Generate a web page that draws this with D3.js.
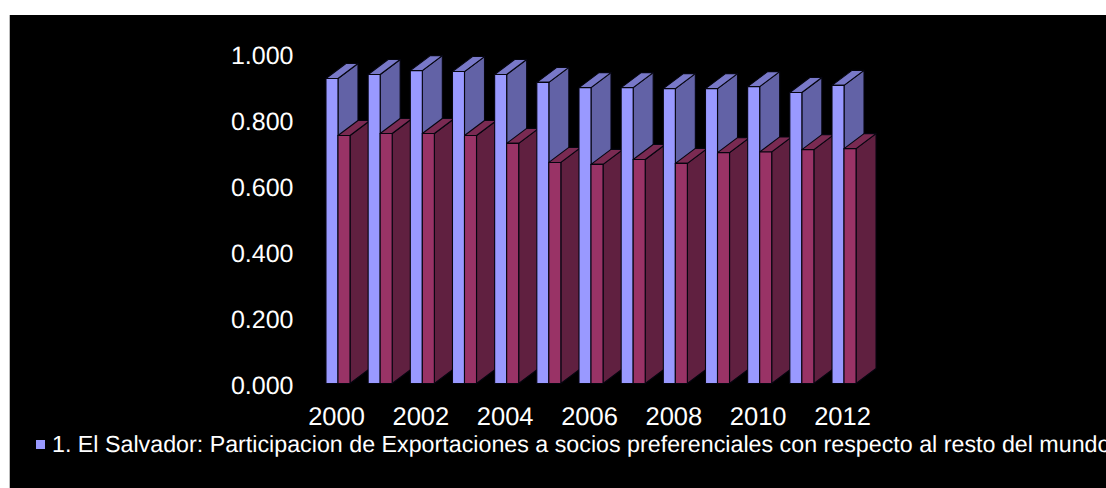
<!DOCTYPE html>
<html><head><meta charset="utf-8">
<script src="https://cdn.jsdelivr.net/npm/d3@7"></script>
<style>html,body{margin:0;padding:0;background:#fff}svg{display:block}text{font-family:"Liberation Sans",Arial,sans-serif;text-rendering:geometricPrecision}</style>
</head><body><div id="c"></div>
<script>
const years=[2000,2001,2002,2003,2004,2005,2006,2007,2008,2009,2010,2011,2012];
const tickYears=[2000,2002,2004,2006,2008,2010,2012];
const socios=[0.930,0.942,0.954,0.951,0.942,0.918,0.902,0.902,0.899,0.899,0.905,0.887,0.909];
const otros=[0.756,0.762,0.762,0.756,0.732,0.674,0.668,0.683,0.671,0.704,0.706,0.713,0.716];
const yTicks=[0,0.2,0.4,0.6,0.8,1];
const legendLabel="1. El Salvador: Participacion de Exportaciones a socios preferenciales con respecto al resto del mundo";

const W=1106,H=488;
const svg=d3.select("#c").append("svg").attr("width",W).attr("height",H);
svg.append("rect").attr("x",9).attr("y",15).attr("width",W-9).attr("height",H-15).attr("fill","#000");
svg.append("rect").attr("x",9).attr("y",15).attr("width",1).attr("height",H-15).attr("fill","#bbb");

const x=d3.scaleBand().domain(years).range([316.9,865.1]).paddingInner(.43).paddingOuter(.215);
const y=d3.scaleLinear().domain([0,1]).range([383.5,55.5]);
const yLabels=d3.scaleLinear().domain([0,1]).range([385,55]);
const bw=x.bandwidth()/2, dx=20, dy=15;
const styles=[
 {front:"#9999ff",side:"#6262a6",top:"#7878c8"},
 {front:"#993366",side:"#602040",top:"#7a2a52"}];
const edge="#05050f";

const bars=svg.append("g");
years.forEach((yr,i)=>{
  [socios[i],otros[i]].forEach((v,s)=>{
    const x0=x(yr)+s*bw,x1=x0+bw,t=y(v),b=y(0),st=styles[s];
    const g=bars.append("g").attr("stroke",edge).attr("stroke-width",1.1).attr("stroke-linejoin","round");
    g.append("path").attr("fill",st.side).attr("d",d3.line()([[x1,b],[x1+dx,b-dy],[x1+dx,t-dy],[x1,t]])+"Z");
    g.append("path").attr("fill",st.top).attr("d",d3.line()([[x0,t],[x0+dx,t-dy],[x1+dx,t-dy],[x1,t]])+"Z");
    g.append("rect").attr("x",x0).attr("y",t).attr("width",bw).attr("height",b-t).attr("fill",st.front);
  });
});

const ya=svg.append("g").attr("transform","translate(293.5,0)")
  .call(d3.axisLeft(yLabels).tickValues(yTicks).tickSize(0).tickPadding(0).tickFormat(d3.format(".3f")));
ya.select(".domain").remove();
ya.selectAll("text").attr("fill","#fff").attr("font-size",25).attr("font-family","Liberation Sans");

const xa=svg.append("g").attr("transform","translate(-1.5,407)")
  .call(d3.axisBottom(x).tickValues(tickYears).tickSize(0).tickPadding(0));
xa.select(".domain").remove();
xa.selectAll("text").attr("fill","#fff").attr("font-size",25.5).attr("font-family","Liberation Sans").attr("dy",0).attr("y",18);

svg.append("rect").attr("x",36).attr("y",440).attr("width",9).attr("height",9).attr("fill","#9999ff");
svg.append("text").attr("x",52).attr("y",452).attr("fill","#fff").attr("font-size",23.25).text(legendLabel);
</script></body></html>
